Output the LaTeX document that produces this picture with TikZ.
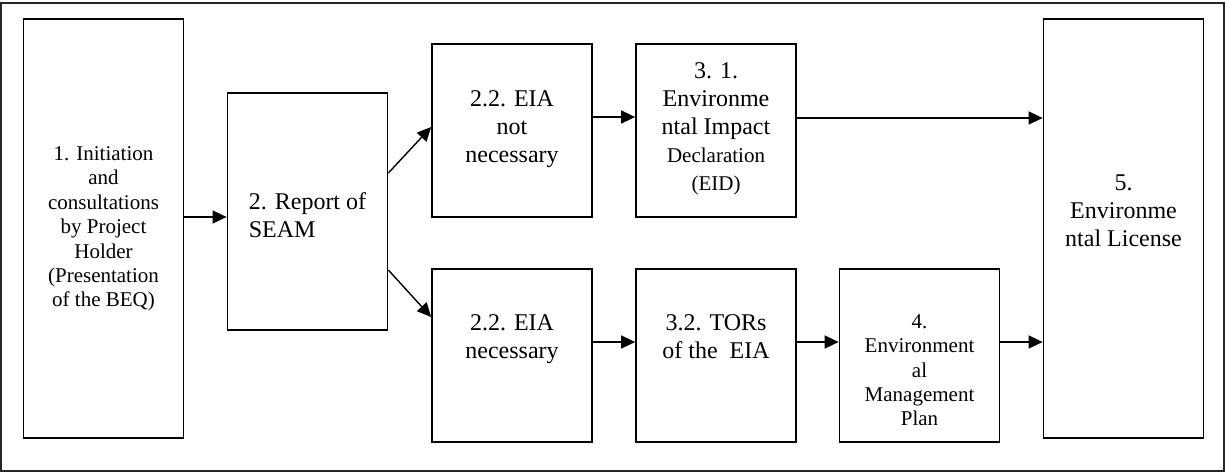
\documentclass[tikz,border=0pt]{standalone}
\usepackage{fontspec}
\setmainfont{Liberation Serif}
\usepackage{tikz}
\usetikzlibrary{arrows.meta, positioning}
\tikzset{
Box/.style={
	draw, line width=0.85pt,
	minimum width=80pt,
	inner sep=0pt
},
TallBox/.style={
	Box,
	minimum height=209.5pt
},
MidBox/.style={
	Box,
	minimum height=118.5pt
},
StepBox/.style={
	Box,
	minimum height=86.5pt
},
Txt/.style={
	align=center, inner sep=0pt,
	font=\fontsize{12}{14}\selectfont
},
SmallTxt/.style={
	Txt,
	font=\fontsize{10.5}{12.2}\selectfont
},
Edge/.style={
	draw=black, line width=0.7pt,
	-{Triangle[length=7pt, width=6.5pt]}
},
Frame/.style={
	draw=black!85, line width=0.7pt
}
}

\begin{document}
\begin{tikzpicture}[x=0.5pt, y=-0.5pt]
	\useasboundingbox (0,0) rectangle (1225,472);
	\draw[Frame] (1,3) rectangle (1224,471);

	\node[TallBox, label={[SmallTxt, anchor=north, yshift=-64pt]north:{1. Initiation\\and\\consultations\\by Project\\Holder\\(Presentation\\of the BEQ)}}] (Init) at (103.5,228.5) {};
	\node[MidBox, label={[Txt, align=left, anchor=north, yshift=-50pt]north:{2. Report of\\SEAM}}] (Report) at (307.5,211.5) {};

	\node[StepBox, label={[Txt, anchor=north, yshift=-23.5pt]north:{2.2. EIA\\not\\necessary}}] (NotNec) at (512,130.5) {};
	\node[StepBox, label={[Txt, anchor=north, yshift=-9.5pt]north:{3. 1.\\Environme\\ntal Impact\\{\fontsize{10.5}{12.2}\selectfont Declaration}\\{\fontsize{10.5}{12.2}\selectfont (EID)}}}] (EID) at (716,130.5) {};

	\node[StepBox, label={[Txt, anchor=north, yshift=-23pt]north:{2.2. EIA\\necessary}}] (Nec) at (512,355.5) {};
	\node[StepBox, label={[Txt, anchor=north, yshift=-23pt]north:{3.2. TORs\\of the\ \ EIA}}] (TOR) at (716,355.5) {};
	\node[StepBox, label={[SmallTxt, anchor=north, yshift=-23pt]north:{4.\\Environment\\al\\Management\\Plan}}] (EMP) at (919.5,355.5) {};

	\node[TallBox, label={[Txt, anchor=north, yshift=-78pt]north:{5.\\Environme\\ntal License}}] (License) at (1123.5,228.5) {};

	\draw[Edge] ([yshift=5.75pt]Init.east) -- ([yshift=5.75pt]Init.east -| Report.west);
	\draw[Edge] ([yshift=19.25pt]Report.east) -- ([yshift=1.75pt]NotNec.west);
	\draw[Edge] ([yshift=-29.25pt]Report.east) -- ([yshift=19.25pt]Nec.west);
	\draw[Edge] ([yshift=6.75pt]NotNec.east) -- ([yshift=6.75pt]EID.west);
	\draw[Edge] ([yshift=6.25pt]EID.east) -- ([yshift=6.25pt]EID.east -| License.west);
	\draw[Edge] ([yshift=6.75pt]Nec.east) -- ([yshift=6.75pt]TOR.west);
	\draw[Edge] ([yshift=6.75pt]TOR.east) -- ([yshift=6.75pt]EMP.west);
	\draw[Edge] ([yshift=6.75pt]EMP.east) -- ([yshift=6.75pt]EMP.east -| License.west);
\end{tikzpicture}
\end{document}
